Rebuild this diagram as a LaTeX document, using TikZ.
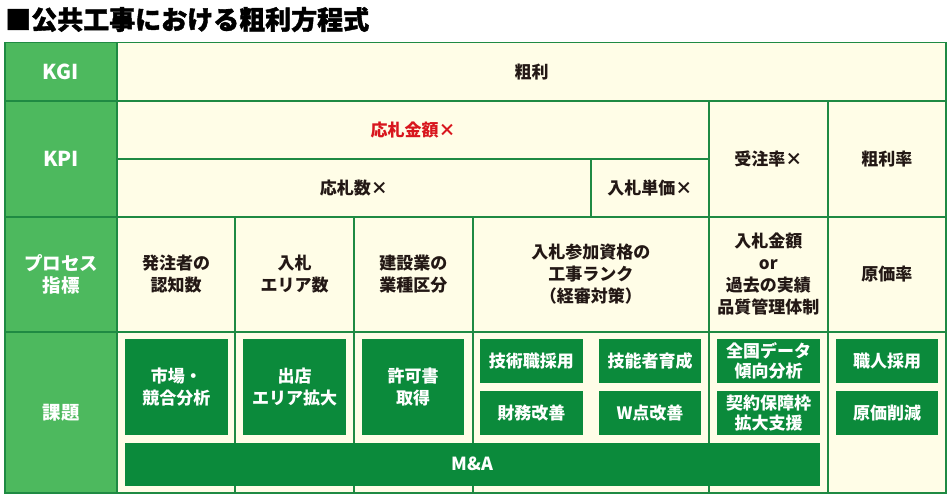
\documentclass[tikz,border=0pt]{standalone}
\usepackage{fontspec}
\setmainfont{Noto Sans CJK JP}
\newfontfamily\titlefont[FakeBold=1.5]{Noto Sans CJK JP}
\definecolor{hdrgreen}{HTML}{4DB95E}
\definecolor{boxgreen}{HTML}{0B8A3B}
\definecolor{bordergreen}{HTML}{1F8A43}
\definecolor{cream}{HTML}{FFFDE7}
\definecolor{ink}{HTML}{231815}
\definecolor{redtxt}{HTML}{D8161E}
\tikzset{
  cell/.style={draw=bordergreen, line width=1.6pt, fill=cream, inner sep=0pt, outer sep=0pt,
    anchor=north west, align=center, text=ink,
    font=\fontsize{17}{22}\selectfont\bfseries},
  hcell/.style={cell, fill=hdrgreen, text=white, font=\fontsize{18.5}{22}\selectfont\bfseries},
  gbox/.style={fill=boxgreen, inner sep=0pt, outer sep=0pt, anchor=north west, align=center,
    text=white, font=\fontsize{17}{22}\selectfont\bfseries},
}
\begin{document}
\begin{tikzpicture}[x=1pt,y=-1pt]
\useasboundingbox (0,0) rectangle (951,498);
\fill[white] (0,0) rectangle (951,498);
% title
\node[anchor=west, inner sep=0pt, text=black, font=\fontsize{26}{26}\selectfont\titlefont\bfseries] (title) at (5,19.5) {■公共工事における粗利方程式};
% header column
\node[hcell, minimum width=112pt, minimum height=58.2pt, font=\fontsize{20.5}{22}\selectfont\bfseries] (hkgi) at (5,42.5) {KGI};
\node[hcell, minimum width=112pt, minimum height=116pt, font=\fontsize{20.5}{22}\selectfont\bfseries] (hkpi) at (5,100.7) {KPI};
\node[hcell, minimum width=112pt, minimum height=115.3pt] (hproc) at (5,216.7) {プロセス\\指標};
\node[hcell, minimum width=112pt, minimum height=160.7pt] (hiss) at (5,332) {課題};
% KGI / KPI
\node[cell, minimum width=829pt, minimum height=58.2pt] (kgi) at (117,42.5) {粗利};
\node[cell, minimum width=592pt, minimum height=58pt, text=redtxt] (kpia) at (117,100.7) {応札金額×};
\node[cell, minimum width=473.7pt, minimum height=58pt] (kpib) at (117,158.7) {応札数×};
\node[cell, minimum width=118.3pt, minimum height=58pt] (kpic) at (590.7,158.7) {入札単価×};
\node[cell, minimum width=118.7pt, minimum height=116pt] (kpid) at (709,100.7) {受注率×};
\node[cell, minimum width=118.3pt, minimum height=116pt] (kpie) at (827.7,100.7) {粗利率};
% process row
\node[cell, minimum width=118pt, minimum height=115.3pt] (p1) at (117,216.7) {発注者の\\認知数};
\node[cell, minimum width=119pt, minimum height=115.3pt] (p2) at (235,216.7) {入札\\エリア数};
\node[cell, minimum width=118.7pt, minimum height=115.3pt] (p3) at (354,216.7) {建設業の\\業種区分};
\node[cell, minimum width=236.3pt, minimum height=115.3pt] (p4) at (472.7,216.7) {入札参加資格の\\工事ランク\\（経審対策）};
\node[cell, minimum width=118.7pt, minimum height=115.3pt] (p5) at (709,216.7) {入札金額\\or\\過去の実績\\品質管理体制};
\node[cell, minimum width=118.3pt, minimum height=115.3pt] (p6) at (827.7,216.7) {原価率};
% issue row cells
\node[cell, minimum width=118pt, minimum height=160.7pt] (i1) at (117,332) {};
\node[cell, minimum width=119pt, minimum height=160.7pt] (i2) at (235,332) {};
\node[cell, minimum width=118.7pt, minimum height=160.7pt] (i3) at (354,332) {};
\node[cell, minimum width=236.3pt, minimum height=160.7pt] (i4) at (472.7,332) {};
\node[cell, minimum width=118.7pt, minimum height=160.7pt] (i5) at (709,332) {};
\node[cell, minimum width=118.3pt, minimum height=160.7pt] (i6) at (827.7,332) {};
% green issue boxes
\node[gbox, minimum width=102.7pt, minimum height=95.7pt] (b1) at (125,339.3) {市場・\\競合分析};
\node[gbox, minimum width=102.4pt, minimum height=95.7pt] (b2) at (243.3,339.3) {出店\\エリア拡大};
\node[gbox, minimum width=102.6pt, minimum height=95.7pt] (b3) at (361.7,339.3) {許可書\\取得};
\node[gbox, minimum width=102.7pt, minimum height=43.4pt] (b4a) at (480,339.3) {技術職採用};
\node[gbox, minimum width=102.6pt, minimum height=43.4pt] (b4b) at (598.7,339.3) {技能者育成};
\node[gbox, minimum width=102.7pt, minimum height=44pt] (b4c) at (480,391) {財務改善};
\node[gbox, minimum width=102.6pt, minimum height=44pt] (b4d) at (598.7,391) {W点改善};
\node[gbox, minimum width=102.7pt, minimum height=43.4pt] (b5a) at (717.3,339.3) {全国データ\\[-2pt]傾向分析};
\node[gbox, minimum width=102.7pt, minimum height=44pt] (b5b) at (717.3,391) {契約保障枠\\[-2pt]拡大支援};
\node[gbox, minimum width=102.6pt, minimum height=43.4pt] (b6a) at (835.7,339.3) {職人採用};
\node[gbox, minimum width=102.6pt, minimum height=44pt] (b6b) at (835.7,391) {原価削減};
\node[gbox, minimum width=695pt, minimum height=43pt, font=\fontsize{18}{22}\selectfont\bfseries] (ma) at (125,442.7) {M\&A};
% outer frame
\draw[bordergreen, line width=1.6pt] (hkgi.north west) rectangle (i6.south east);
\end{tikzpicture}
\end{document}
